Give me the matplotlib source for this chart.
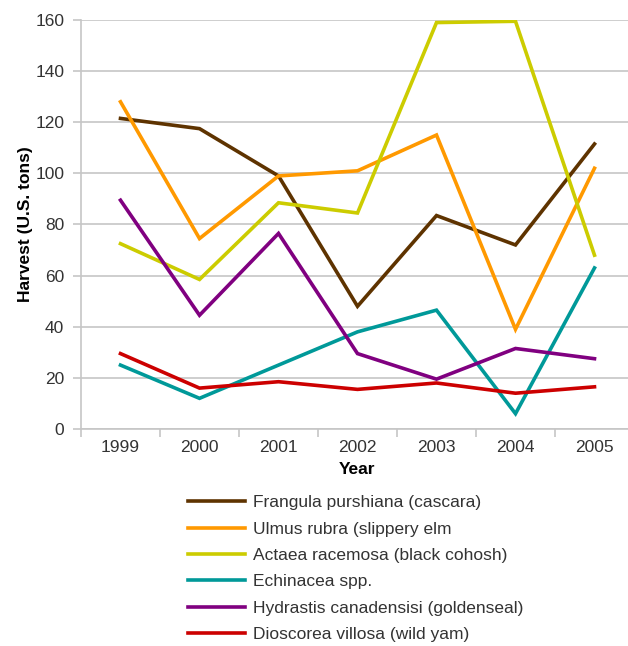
import matplotlib
matplotlib.use("Agg")
import matplotlib.pyplot as plt
import numpy as np

plt.rcParams['font.family'] = ['Liberation Sans', 'DejaVu Sans']

years = ["1999", "2000", "2001", "2002", "2003", "2004", "2005"]

frangula = [121.5, 117.5, 99, 48, 83.5, 72, 111.5]
ulmus = [128, 74.5, 99, 101, 115, 39, 102]
actaea = [72.5, 58.5, 88.5, 84.5, 159, 159.5, 68]
echinacea = [25, 12, 25, 38, 46.5, 6, 63]
hydrastis = [89.5, 44.5, 76.5, 29.5, 19.5, 31.5, 27.5]
dioscorea = [29.5, 16, 18.5, 15.5, 18, 14, 16.5]

series = [
    ("Frangula purshiana (cascara)", frangula, "#5e3300"),
    ("Ulmus rubra (slippery elm", ulmus, "#ff9900"),
    ("Actaea racemosa (black cohosh)", actaea, "#cccc00"),
    ("Echinacea spp.", echinacea, "#009999"),
    ("Hydrastis canadensisi (goldenseal)", hydrastis, "#800080"),
    ("Dioscorea villosa (wild yam)", dioscorea, "#cc0000"),
]

W, H = 628, 646
fig = plt.figure(figsize=(W / 100, H / 100), dpi=100)
ax = fig.add_axes([81 / W, 1 - 429 / H, 553 / W, 409 / H])

x = np.arange(len(years))
handles = []
for name, vals, color in series:
    (ln,) = ax.plot(x, vals, color=color, lw=2.6, solid_joinstyle='miter', label=name)
    handles.append(ln)

grid_c = "#c6c6c6"
ax.set_xlim(-0.5, 6.5)
ax.set_ylim(0, 160)
ax.set_yticks(np.arange(0, 161, 20))
ax.yaxis.grid(True, color=grid_c, lw=1.2)
ax.set_axisbelow(True)
ax.set_xticks(x)
ax.set_xticklabels(years)
ax.set_xticks(np.arange(-0.5, 7, 1), minor=True)
ax.tick_params(axis='x', which='major', length=0, pad=8, labelsize=12.5, labelcolor="#333333")
ax.tick_params(axis='x', which='minor', length=6, color=grid_c, width=1.2)
ax.tick_params(axis='y', length=6, color=grid_c, width=1.2, pad=6, labelsize=12.5, labelcolor="#333333")

for s in ['top', 'right']:
    ax.spines[s].set_visible(False)
for s in ['left', 'bottom']:
    ax.spines[s].set_color(grid_c)
    ax.spines[s].set_linewidth(1.2)

ax.set_xlabel("Year", fontsize=12.5, fontweight='bold', labelpad=5)
ax.set_ylabel("Harvest (U.S. tons)", fontsize=12.5, fontweight='bold', labelpad=2)

fig.legend(handles=handles, loc='upper left', bbox_to_anchor=(188 / W, 1 - 495 / H),
           frameon=False, fontsize=12.5, handlelength=3.3, handletextpad=0.45,
           labelspacing=0.65, borderpad=0, borderaxespad=0, labelcolor="#333333")

fig.savefig("out.png", dpi=100)
